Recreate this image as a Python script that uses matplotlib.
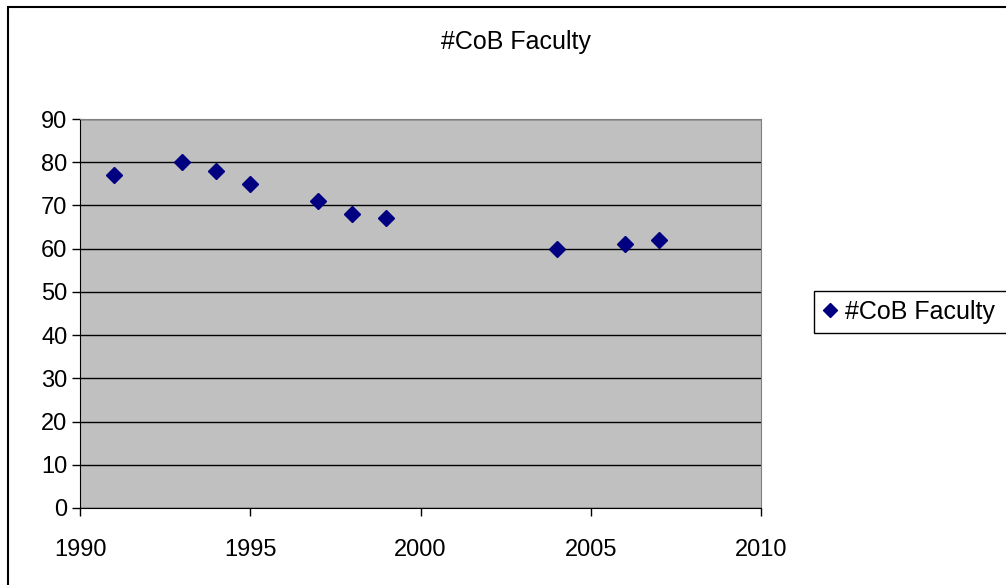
import matplotlib
matplotlib.use('Agg')

import matplotlib.pyplot as plt
import matplotlib.patches as mpatches
from matplotlib.lines import Line2D

years = [1991, 1993, 1994, 1995, 1997, 1998, 1999, 2004, 2006, 2007]
faculty = [77, 80, 78, 75, 71, 68, 67, 60, 61, 62]
series_name = "#CoB Faculty"
x_ticks = [1990, 1995, 2000, 2005, 2010]
y_ticks = [0, 10, 20, 30, 40, 50, 60, 70, 80, 90]

plt.rcParams['font.family'] = ['Liberation Sans', 'DejaVu Sans']

fig = plt.figure(figsize=(10.06, 5.85), dpi=100)

# outer chart border (only top and left edges show in the picture)
fig.patches.append(mpatches.Rectangle((8 / 1006, -0.1), 1.2, 1 - 7 / 585 + 0.1,
                                      transform=fig.transFigure, fill=False,
                                      edgecolor='black', linewidth=1.5))

ax = fig.add_axes([80 / 1006, 1 - 508 / 585, 681 / 1006, 389 / 585])
ax.set_facecolor('#c0c0c0')
ax.plot(years, faculty, linestyle='none', marker='D', markersize=8,
        color='#000080', label=series_name)

ax.set_xlim(1990, 2010)
ax.set_ylim(0, 90)
ax.set_xticks(x_ticks)
ax.set_yticks(y_ticks)
ax.grid(True, axis='y', color='black', linewidth=1)
ax.set_axisbelow(True)
ax.tick_params(direction='out', length=6, width=1, labelsize=17, pad=3)
ax.tick_params(axis='x', pad=16)

for side in ['top', 'right']:
    ax.spines[side].set_color('#808080')
for side in ['left', 'bottom']:
    ax.spines[side].set_color('black')

fig.text(516 / 1006, 1 - 42 / 585, series_name, ha='center', va='center',
         fontsize=18)

# legend box runs off the right edge of the chart, so draw its frame apart
fig.patches.append(mpatches.Rectangle((814 / 1006, 1 - 333 / 585), 0.3, 42 / 585,
                                      transform=fig.transFigure, facecolor='white',
                                      edgecolor='black', linewidth=1))
handle = Line2D([], [], linestyle='none', marker='D', markersize=7,
                color='#000080')
leg = fig.legend([handle], [series_name], loc='center left',
                 bbox_to_anchor=(814 / 1006, 1 - 312 / 585), fontsize=18,
                 frameon=False, handlelength=0.6,
                 handletextpad=0.3, borderpad=0.35, borderaxespad=0)

fig.savefig('out.png', dpi=100)
